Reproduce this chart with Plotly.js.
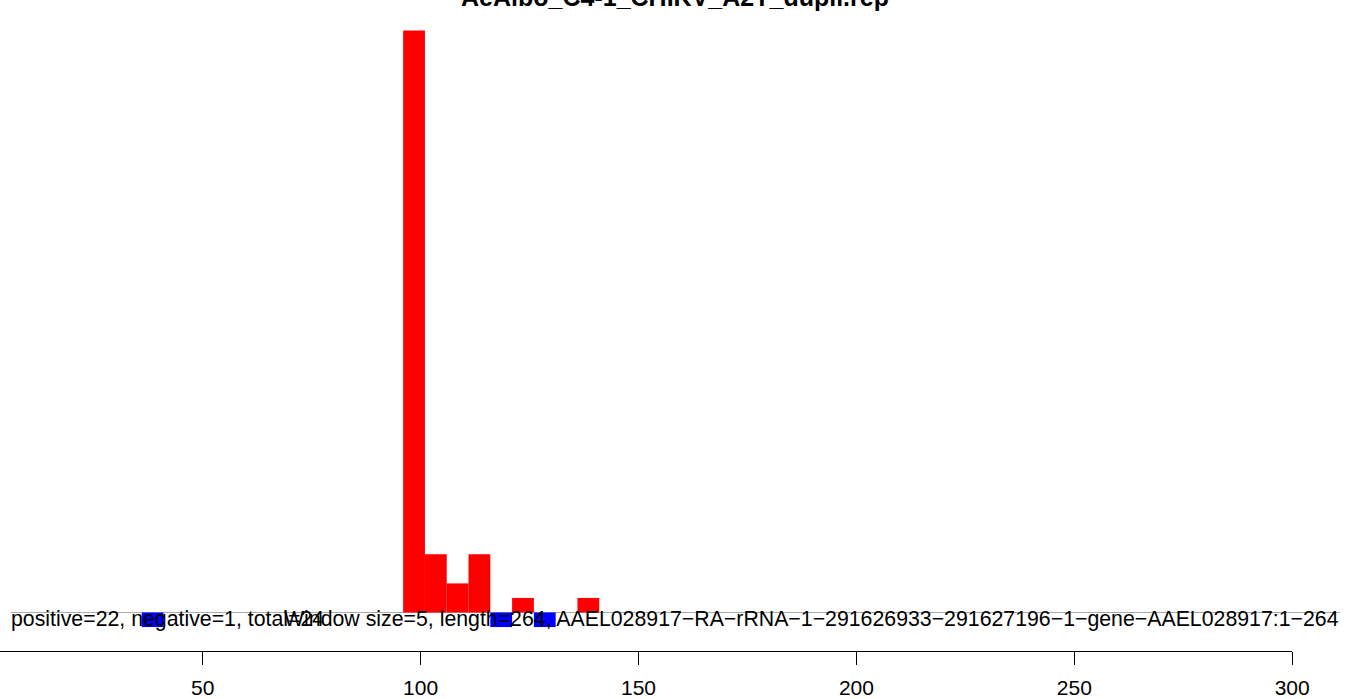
<!DOCTYPE html>
<html>
<head>
<meta charset="utf-8">
<script src="https://cdn.plot.ly/plotly-3.0.1.min.js"></script>
<style>html,body{margin:0;padding:0;background:#fff;}#chart{width:1358px;height:699px;}</style>
</head>
<body>
<div id="chart"></div>
<script>
// ---- data ----
const chartTitle = "AeAlbo_C4-1_CHIKV_A2T_dupli.rep";
const windowSize = 5;
const posCenters = [98.5, 103.5, 108.5, 113.5, 123.5, 138.5];
const posValues  = [40, 4, 2, 4, 1, 1];
const negCenters = [38.5, 118.5, 128.5];
const negValues  = [-1, -1, -1];
const tickValues = [50, 100, 150, 200, 250, 300];
const tickLabels = ["50", "100", "150", "200", "250", "300"];
const leftNote  = "positive=22, negative=1, total=24";
const rightNote = "Window size=5, length=264, AAEL028917\u2212RA\u2212rRNA\u22121\u2212291626933\u2212291627196\u22121\u2212gene\u2212AAEL028917:1\u2212264";

// ---- layout helpers (pixels -> paper) ----
const W = 1358, H = 699;
const px = v => v / W;
const py = v => 1 - v / H;
const font = "Liberation Sans, Arial, Helvetica, sans-serif";

const traces = [
  {type: "bar", x: posCenters, y: posValues, width: windowSize,
   marker: {color: "#FF0000", line: {width: 0}}, hoverinfo: "x+y", xaxis: "x", yaxis: "y"},
  {type: "bar", x: negCenters, y: negValues, width: windowSize,
   marker: {color: "#0000FF", line: {width: 0}}, hoverinfo: "x+y", xaxis: "x", yaxis: "y"},
  {type: "scatter", x: [], y: [], xaxis: "x2", yaxis: "y", showlegend: false, hoverinfo: "skip"}
];

const layout = {
  width: W, height: H,
  margin: {l: 0, r: 0, t: 0, b: 0, pad: 0},
  paper_bgcolor: "#FFFFFF",
  plot_bgcolor: "rgba(0,0,0,0)",
  showlegend: false,
  barmode: "overlay",
  font: {family: font, color: "#000000", size: 21},
  title: {
    text: chartTitle,
    font: {family: font, size: 25, weight: "bold", color: "#000000"},
    xref: "paper", x: (675) / W, xanchor: "center",
    yref: "container", y: 1 - 6 / H, yanchor: "bottom"
  },
  xaxis: {
    domain: [px(11), px(1340)], range: [6.0, 311.0],
    visible: false, fixedrange: true
  },
  xaxis2: {
    domain: [0, px(1292.3)], range: [3.49, 300.02],
    anchor: "free", position: py(651), side: "bottom",
    showline: true, linecolor: "#000000", linewidth: 1,
    ticks: "outside", ticklen: 13, tickwidth: 1, tickcolor: "#000000",
    tickmode: "array", tickvals: tickValues, ticktext: tickLabels,
    tickfont: {family: font, size: 21, color: "#000000"},
    ticklabelstandoff: 5,
    showgrid: false, zeroline: false, fixedrange: true
  },
  yaxis: {
    domain: [py(651), 1], range: [-2.646, 42.096],
    visible: false, fixedrange: true
  },
  shapes: [
    {type: "line", xref: "x", yref: "y", x0: 6.0, x1: 311.0, y0: 0, y1: 0,
     line: {color: "#AAAAAA", width: 1}, layer: "below"}
  ],
  annotations: [
    {text: leftNote, xref: "paper", yref: "paper", x: px(10), y: py(618.5),
     xanchor: "left", yanchor: "middle", showarrow: false, borderpad: 0,
     font: {family: font, size: 21.3, color: "#000000"}},
    {text: rightNote, xref: "paper", yref: "paper", x: px(1340), y: py(618.5),
     xanchor: "right", yanchor: "middle", showarrow: false, borderpad: 0,
     font: {family: font, size: 21.3, color: "#000000"}}
  ]
};

Plotly.newPlot("chart", traces, layout, {displayModeBar: false, staticPlot: true});
</script>
</body>
</html>
